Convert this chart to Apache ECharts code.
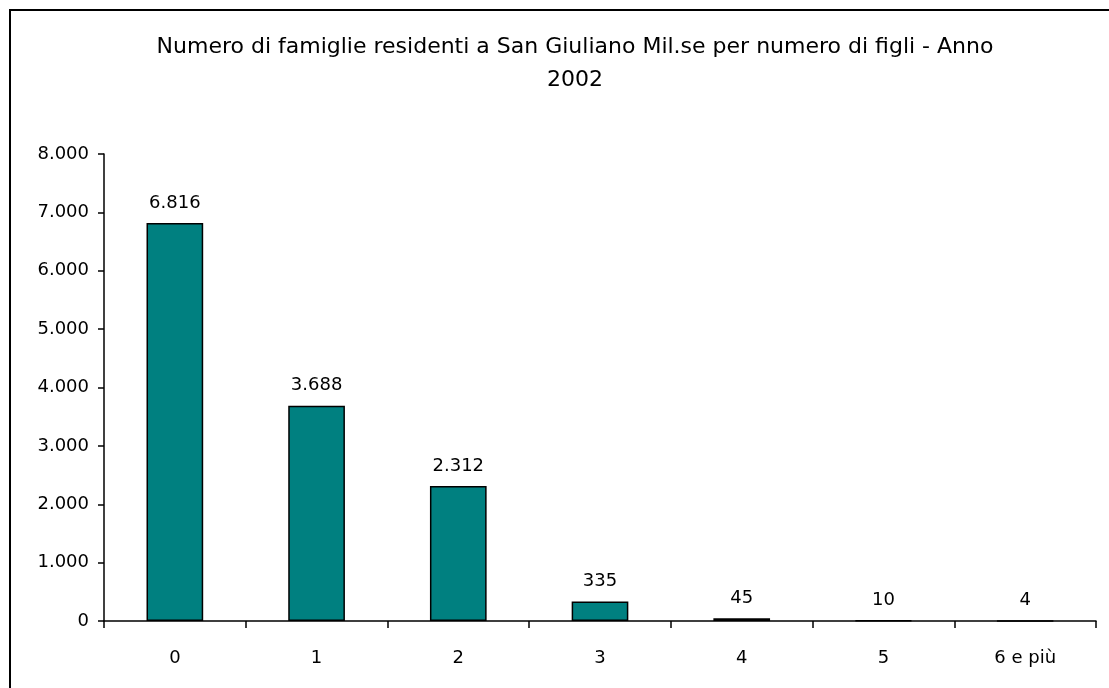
<!DOCTYPE html>
<html>
<head>
<meta charset="utf-8">
<script src="https://cdn.jsdelivr.net/npm/echarts@6/dist/echarts.min.js"></script>
<style>html,body{margin:0;padding:0;background:#fff}#c{width:1109px;height:688px}</style>
</head>
<body>
<div id="c"></div>
<script>
const titleLines = ['Numero di famiglie residenti a San Giuliano Mil.se per numero di figli - Anno', '2002'];
const categories = ['0', '1', '2', '3', '4', '5', '6 e più'];
const values = [6816, 3688, 2312, 335, 45, 10, 4];
const yTicks = {min: 0, max: 8000, interval: 1000};

const fmt = v => String(v).replace(/\B(?=(\d{3})+(?!\d))/g, '.');
const FONT = 'DejaVu Sans';
const chart = echarts.init(document.getElementById('c'), null, {renderer: 'canvas'});
chart.setOption({
  animation: false,
  backgroundColor: '#fff',
  textStyle: {fontFamily: FONT},
  graphic: [{
    type: 'rect', silent: true, z: 100,
    shape: {x: 10, y: 10, width: 1200, height: 800},
    style: {fill: 'none', stroke: '#000', lineWidth: 2}
  }],
  title: {
    text: titleLines.join('\n'),
    left: 570, textAlign: 'center', top: 26,
    textStyle: {fontFamily: FONT, fontWeight: 'normal', fontSize: 22, color: '#000', lineHeight: 33}
  },
  grid: {left: 104, right: 13, top: 154, bottom: 67, containLabel: false},
  xAxis: {
    type: 'category', data: categories,
    axisLine: {lineStyle: {color: '#000', width: 1.5}},
    axisTick: {show: true, length: 7, lineStyle: {color: '#000', width: 1.5}},
    axisLabel: {color: '#000', fontSize: 18, fontFamily: FONT, margin: 28}
  },
  yAxis: {
    type: 'value', min: yTicks.min, max: yTicks.max, interval: yTicks.interval,
    axisLine: {show: true, lineStyle: {color: '#000', width: 1.5}},
    axisTick: {show: true, length: 6, lineStyle: {color: '#000', width: 1.5}},
    splitLine: {show: false},
    axisLabel: {color: '#000', fontSize: 18, fontFamily: FONT, margin: 15, formatter: fmt}
  },
  series: [{
    type: 'bar', data: values, barWidth: '40%',
    itemStyle: {color: '#008080', borderColor: '#000', borderWidth: 1.5},
    label: {show: true, position: 'top', distance: 11, color: '#000', fontSize: 18, fontFamily: FONT,
      formatter: p => fmt(p.value)}
  }]
});
</script>
</body>
</html>
